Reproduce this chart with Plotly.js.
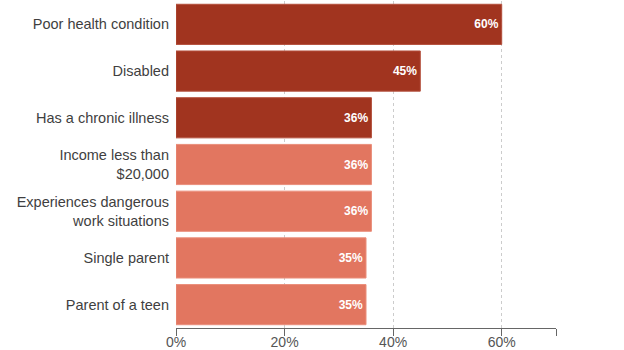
<!DOCTYPE html>
<html>
<head>
<meta charset="utf-8">
<script src="https://cdn.plot.ly/plotly-3.0.1.min.js"></script>
<style>html,body{margin:0;padding:0;background:#fff;}#chart{width:624px;height:350px;}</style>
</head>
<body>
<div id="chart"></div>
<script>
const categories = ["Poor health condition", "Disabled", "Has a chronic illness", "Income less than<br>$20,000", "Experiences dangerous<br>work situations", "Single parent", "Parent of a teen"];
const values = [60, 45, 36, 36, 36, 35, 35];
const groups = ["health", "health", "health", "other", "other", "other", "other"];
const tickValues = [0, 20, 40, 60];
const tickLabels = ["0%", "20%", "40%", "60%"];

const groupColors = {health: "#A1341F", other: "#E27660"};
const groupLines = {health: "#B4503D", other: "#EA8E7B"};

const trace = {
  type: "bar",
  orientation: "h",
  y: categories,
  x: values,
  text: values.map(v => v + "%"),
  textposition: "inside",
  insidetextanchor: "end",
  textangle: 0,
  textfont: {family: "Liberation Sans, Arial, sans-serif", size: 12, color: "#ffffff", weight: "bold"},
  marker: {color: groups.map(g => groupColors[g]), line: {color: groups.map(g => groupLines[g]), width: 1}},
  hoverinfo: "none",
  cliponaxis: false
};

const layout = {
  width: 624, height: 350,
  margin: {l: 176, r: 68, t: 1, b: 22},
  paper_bgcolor: "#fff", plot_bgcolor: "#fff",
  bargap: 0.14,
  showlegend: false,
  font: {family: "Liberation Sans, Arial, sans-serif", size: 14.5, color: "#3f3f3f"},
  xaxis: {
    range: [0, 70],
    tickmode: "array", tickvals: tickValues, ticktext: tickLabels,
    ticks: "outside", ticklen: 7, tickcolor: "#666", tickwidth: 1,
    ticklabelstandoff: -6,
    showline: true, linecolor: "#666", linewidth: 1,
    showgrid: true, gridcolor: "#cccccc", griddash: "dot", gridwidth: 1,
    zeroline: false,
    tickfont: {size: 14, color: "#555"},
    minor: {tickmode: "array", tickvals: [70], ticks: "outside", ticklen: 7, tickcolor: "#666", showgrid: false},
    fixedrange: true
  },
  yaxis: {
    autorange: "reversed",
    ticks: "", showline: false, showgrid: false, zeroline: false,
    ticklabelstandoff: 6,
    tickfont: {size: 14.5, color: "#3f3f3f"},
    fixedrange: true
  }
};

Plotly.newPlot("chart", [trace], layout, {displayModeBar: false, staticPlot: true});
</script>
</body>
</html>
